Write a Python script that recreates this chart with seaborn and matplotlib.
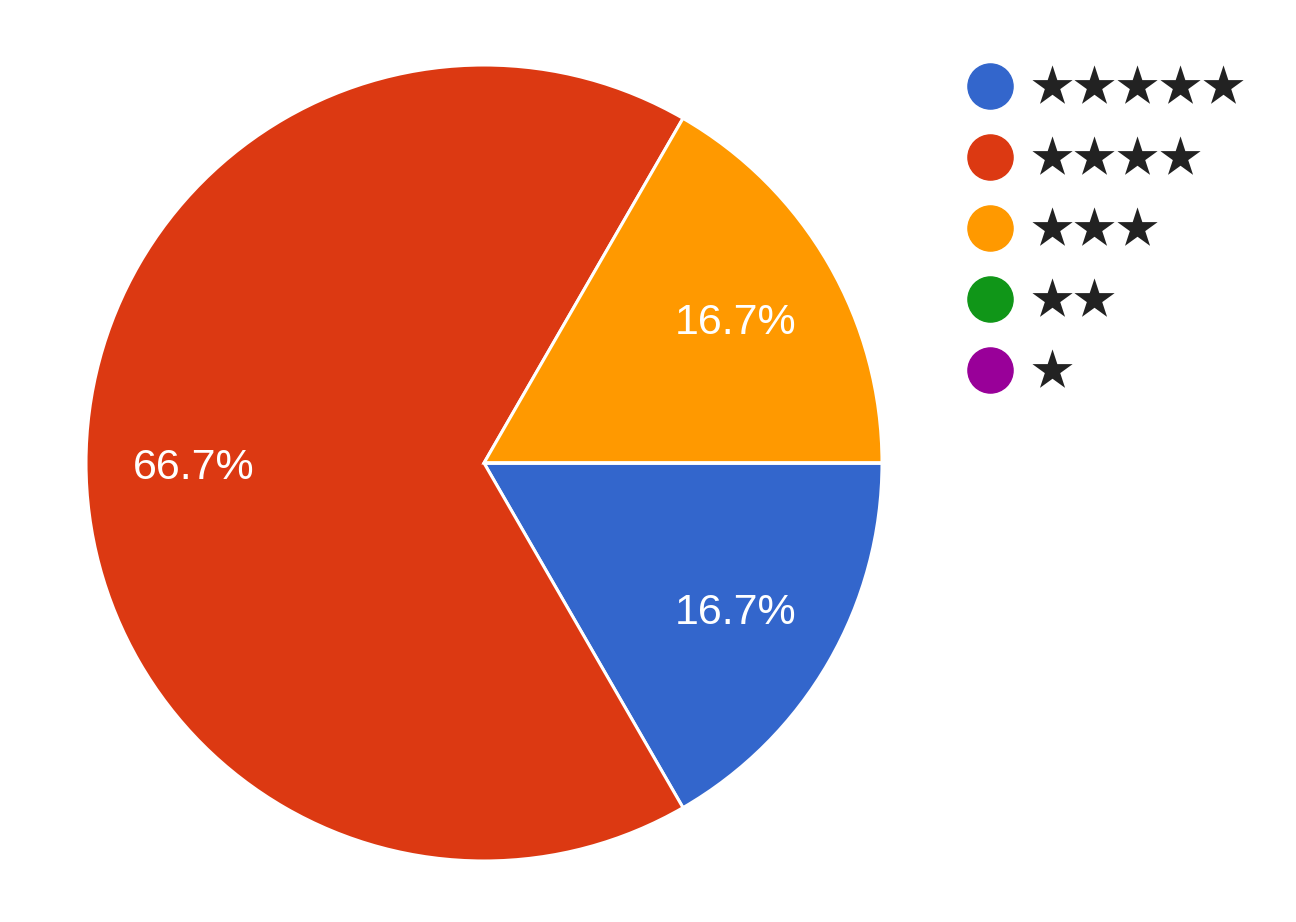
import numpy as np
import matplotlib
matplotlib.use("Agg")
import matplotlib.pyplot as plt
import seaborn as sns
from matplotlib.lines import Line2D

## Data ##
ratings = ["★★★★★", "★★★★", "★★★", "★★", "★"]
counts = [1, 4, 1, 0, 0]
colors = ["#3366cc", "#dc3912", "#ff9900", "#109618", "#990099"]

sns.set_theme(style="white")
plt.rcParams['font.family'] = ['Liberation Sans', 'DejaVu Sans']

fig = plt.figure(figsize=(12.96, 9.22), dpi=100)
# square axes so the pie sits where the original does
ax = fig.add_axes([86 / 1296, 61 / 922, 796 / 1296, 796 / 922])


def pct_label(p):
    return f"{p:.1f}%" if p > 0 else ""


wedges, texts, autotexts = ax.pie(
    counts, colors=sns.color_palette(colors), startangle=0, counterclock=False,
    autopct=pct_label, pctdistance=0.73,
    wedgeprops=dict(edgecolor="white", linewidth=2.2),
    textprops=dict(color="white", fontsize=31))
# nudge labels down a touch, matplotlib centres on the full text box
for t in autotexts:
    x, y = t.get_position()
    t.set_position((x, y - 0.013))
ax.set_xlim(-1, 1)
ax.set_ylim(-1, 1)
ax.set_aspect("equal")

# legend with round markers, stars as labels
handles = [Line2D([], [], marker="o", linestyle="", markersize=32.5,
                  markerfacecolor=c, markeredgecolor=c) for c in colors]
leg = fig.legend(handles, ratings, loc="upper left",
                 bbox_to_anchor=(968 / 1296, 1 - 67 / 922), frameon=False,
                 prop=dict(family=['Noto Sans CJK SC', 'DejaVu Sans'], size=31),
                 labelspacing=0.63, handletextpad=0.45,
                 handlelength=1.0, borderpad=0, borderaxespad=0)
for t in leg.get_texts():
    t.set_color("#222222")

plt.savefig("out.png", dpi=100)
